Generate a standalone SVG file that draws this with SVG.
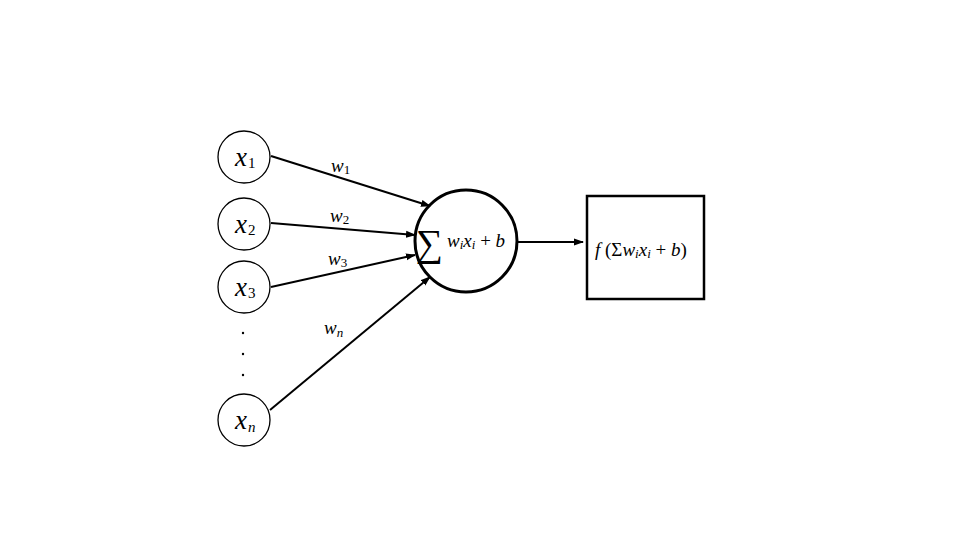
<svg xmlns="http://www.w3.org/2000/svg" width="960" height="540" viewBox="0 0 960 540">
<defs>
<marker id="ah" markerWidth="10" markerHeight="8" refX="9" refY="4" orient="auto" markerUnits="userSpaceOnUse">
<path d="M0,0.5 L10,4 L0,7.5 Z" fill="#000"/>
</marker>
<style>
.in{fill:#fff;stroke:#000;stroke-width:1.3}
.m{font-family:"Liberation Serif","DejaVu Serif",serif;font-style:italic;fill:#000}
.r{font-family:"Liberation Serif","DejaVu Serif",serif;fill:#000}
.sub{font-size:15px}
.c{stroke:#000;stroke-width:2;fill:none;marker-end:url(#ah)}
</style>
</defs>
<rect width="960" height="540" fill="#fff"/>
<g id="x1"><circle class="in" cx="244" cy="157" r="26"/><text class="m" x="235" y="166" font-size="27">x<tspan class="sub" font-style="normal" dx="1" dy="2">1</tspan></text></g>
<g id="x2"><circle class="in" cx="244" cy="224" r="26"/><text class="m" x="235" y="233" font-size="27">x<tspan class="sub" font-style="normal" dx="1" dy="2">2</tspan></text></g>
<g id="x3"><circle class="in" cx="244" cy="287" r="26"/><text class="m" x="235" y="296" font-size="27">x<tspan class="sub" font-style="normal" dx="1" dy="2">3</tspan></text></g>
<g id="dots" fill="#000"><circle cx="243" cy="333" r="1.2"/><circle cx="243" cy="354" r="1.2"/><circle cx="243" cy="375" r="1.2"/></g>
<g id="xn"><circle class="in" cx="244" cy="420" r="26"/><text class="m" x="235" y="429" font-size="27">x<tspan class="sub" dx="1" dy="3">n</tspan></text></g>
<g id="sum"><circle cx="466" cy="241" r="51" fill="#fff" stroke="#000" stroke-width="3"/>
<text class="r" x="416" y="256" font-size="38">∑</text>
<text class="m" x="447" y="247" font-size="19">w<tspan font-size="13" dy="2">i</tspan><tspan dy="-2">x</tspan><tspan font-size="13" dy="2">i</tspan><tspan font-style="normal" dy="-2"> + </tspan>b</text></g>
<g id="act"><rect x="587" y="196" width="117" height="103" fill="#fff" stroke="#000" stroke-width="2.5"/>
<text class="m" x="595" y="256" font-size="19">f<tspan font-style="normal"> (Σ</tspan>w<tspan font-size="13" dy="2">i</tspan><tspan dy="-2">x</tspan><tspan font-size="13" dy="2">i</tspan><tspan font-style="normal" dy="-2"> + </tspan>b<tspan font-style="normal">)</tspan></text></g>
<g id="connectors">
<line class="c" x1="271" y1="156" x2="430" y2="206"/>
<line class="c" x1="271" y1="223" x2="415" y2="235"/>
<line class="c" x1="271" y1="287" x2="415" y2="255"/>
<line class="c" x1="270" y1="410" x2="430" y2="277"/>
<line class="c" x1="517" y1="242" x2="583" y2="242"/>
</g>
<g id="labels">
<text class="m" x="331" y="172" font-size="19">w<tspan font-size="13" font-style="normal" dy="2">1</tspan></text>
<text class="m" x="330" y="222" font-size="19">w<tspan font-size="13" font-style="normal" dy="2">2</tspan></text>
<text class="m" x="328" y="265" font-size="19">w<tspan font-size="13" font-style="normal" dy="2">3</tspan></text>
<text class="m" x="324" y="334" font-size="19">w<tspan font-size="13" dy="3">n</tspan></text>
</g>
</svg>
